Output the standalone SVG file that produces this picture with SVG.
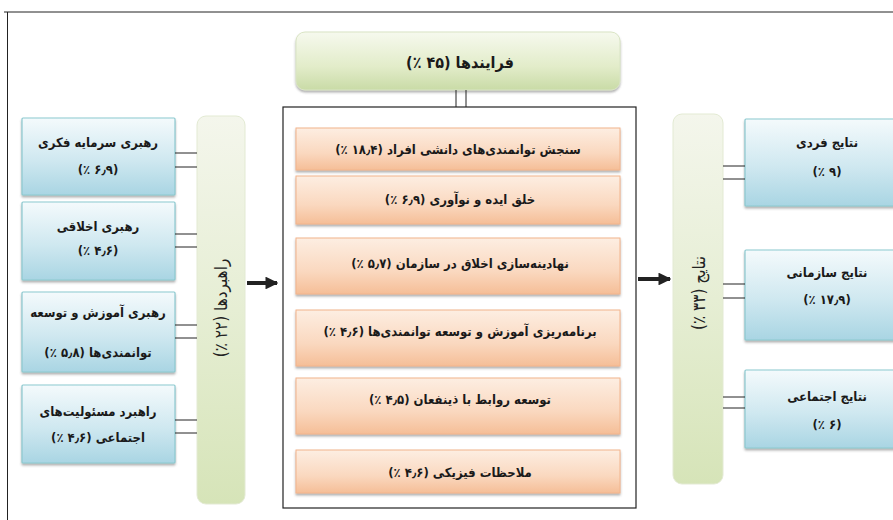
<svg xmlns="http://www.w3.org/2000/svg" width="893" height="520" viewBox="0 0 893 520">
<defs>
<linearGradient id="gBlue" x1="0" y1="0" x2="0" y2="1">
<stop offset="0" stop-color="#f4fafc"/>
<stop offset="0.55" stop-color="#cfe8f0"/>
<stop offset="1" stop-color="#a9d5e3"/>
</linearGradient>
<linearGradient id="gPeach" x1="0" y1="0" x2="0" y2="1">
<stop offset="0" stop-color="#fdeee2"/>
<stop offset="0.6" stop-color="#fad8bf"/>
<stop offset="1" stop-color="#f5be97"/>
</linearGradient>
<linearGradient id="gGreenTop" x1="0" y1="0" x2="0" y2="1">
<stop offset="0" stop-color="#f6f9ee"/>
<stop offset="0.6" stop-color="#e2ecc9"/>
<stop offset="1" stop-color="#c9dba6"/>
</linearGradient>
<linearGradient id="gBar" x1="0" y1="0" x2="0" y2="1">
<stop offset="0" stop-color="#f4f6ec"/>
<stop offset="0.5" stop-color="#e6eed4"/>
<stop offset="1" stop-color="#d6e4b8"/>
</linearGradient>
<filter id="sh" x="-5%" y="-5%" width="110%" height="120%">
<feDropShadow dx="0" dy="2" stdDeviation="1.2" flood-color="#555" flood-opacity="0.45"/>
</filter>
<marker id="arr" viewBox="0 0 10 10" refX="9" refY="5" markerWidth="3.2" markerHeight="3.2" orient="auto" markerUnits="strokeWidth">
<path d="M0,0 L10,5 L0,10 z" fill="#222"/>
</marker>
</defs>
<style>
.t{font-family:"DejaVu Sans Condensed","DejaVu Sans",sans-serif;font-stretch:condensed;font-weight:bold;font-size:13px;fill:#1a1a1a;text-anchor:middle;direction:rtl;unicode-bidi:embed}
.tb{font-size:16px}
.tv{font-size:17px;font-weight:normal;fill:#222}
.blue{fill:url(#gBlue);stroke:#8cc9cf;stroke-width:1.2}
.peach{fill:url(#gPeach);stroke:#f2b48c;stroke-width:1}
.bar{fill:url(#gBar);stroke:#e3ead3;stroke-width:1}
.ln{stroke:#222;stroke-width:1;fill:none}
.ar{stroke:#222;stroke-width:4;fill:none}
</style>
<rect width="893" height="520" fill="#ffffff"/>
<path class="ln" d="M4,12 H893 M7.5,12 V520" stroke-width="1.5"/>

<g id="processes-title">
<rect x="296" y="32" width="324" height="58" rx="9" fill="url(#gGreenTop)" stroke="#d9e4c4" filter="url(#sh)"/>
<text class="t tb" x="460" y="68">فرایندها (۴۵ ٪)</text>
</g>

<g id="processes-frame">
<rect x="283" y="107" width="353" height="401" fill="none" stroke="#222" stroke-width="1.2"/>
</g>

<g id="p1"><rect class="peach" x="296" y="128" width="324" height="42" filter="url(#sh)"/><text class="t" x="458" y="154">سنجش توانمندی‌های دانشی افراد  (۱۸٫۴ ٪)</text></g>
<g id="p2"><rect class="peach" x="296" y="176" width="324" height="48" filter="url(#sh)"/><text class="t" x="460" y="204">خلق ایده و نوآوری  (۶٫۹ ٪)</text></g>
<g id="p3"><rect class="peach" x="296" y="238" width="324" height="56" filter="url(#sh)"/><text class="t" x="460" y="268">نهادینه‌سازی اخلاق در سازمان  (۵٫۷ ٪)</text></g>
<g id="p4"><rect class="peach" x="296" y="310" width="324" height="56" filter="url(#sh)"/><text class="t" x="460" y="336">برنامه‌ریزی آموزش و توسعه توانمندی‌ها  (۴٫۶ ٪)</text></g>
<g id="p5"><rect class="peach" x="296" y="378" width="324" height="56" filter="url(#sh)"/><text class="t" x="460" y="404">توسعه روابط با ذینفعان  (۴٫۵ ٪)</text></g>
<g id="p6"><rect class="peach" x="296" y="450" width="324" height="43" filter="url(#sh)"/><text class="t" x="460" y="477">ملاحظات فیزیکی  (۴٫۶ ٪)</text></g>

<g id="strategies-bar">
<rect class="bar" x="197" y="116" width="48" height="388" rx="9"/>
<text class="t tv" transform="translate(227,308) rotate(-90)">راهبردها   (۲۲ ٪)</text>
</g>

<g id="outcomes-bar">
<rect class="bar" x="673" y="114" width="50" height="370" rx="9"/>
<text class="t tv" transform="translate(705,293) rotate(-90)">نتایج   (۳۳ ٪)</text>
</g>

<g id="s1"><rect class="blue" x="22" y="118" width="153" height="77" rx="1" filter="url(#sh)"/><text class="t" x="98" y="147">رهبری سرمایه فکری</text><text class="t" x="98" y="174">(۶٫۹ ٪)</text></g>
<g id="s2"><rect class="blue" x="22" y="202" width="153" height="78" rx="1" filter="url(#sh)"/><text class="t" x="98" y="231">رهبری اخلاقی</text><text class="t" x="98" y="255">(۴٫۶ ٪)</text></g>
<g id="s3"><rect class="blue" x="22" y="292" width="153" height="80" rx="1" filter="url(#sh)"/><text class="t" x="98" y="317">رهبری آموزش و توسعه</text><text class="t" x="98" y="357">توانمندی‌ها  (۵٫۸ ٪)</text></g>
<g id="s4"><rect class="blue" x="22" y="385" width="153" height="78" rx="1" filter="url(#sh)"/><text class="t" x="98" y="416">راهبرد مسئولیت‌های</text><text class="t" x="98" y="442">اجتماعی (۴٫۶ ٪)</text></g>

<g id="o1"><rect class="blue" x="745" y="119" width="160" height="87" rx="1" filter="url(#sh)"/><text class="t" x="827" y="147">نتایج فردی</text><text class="t" x="827" y="176">(۹ ٪)</text></g>
<g id="o2"><rect class="blue" x="745" y="250" width="160" height="90" rx="1" filter="url(#sh)"/><text class="t" x="827" y="277">نتایج سازمانی</text><text class="t" x="827" y="304">(۱۷٫۹ ٪)</text></g>
<g id="o3"><rect class="blue" x="745" y="370" width="160" height="78" rx="1" filter="url(#sh)"/><text class="t" x="827" y="401">نتایج اجتماعی</text><text class="t" x="827" y="429">(۶ ٪)</text></g>

<g id="connectors">
<path class="ln" d="M456,90 V107 M466,90 V107"/>
<path class="ln" d="M175,153 H197 M175,167 H197"/>
<path class="ln" d="M175,234 H197 M175,247 H197"/>
<path class="ln" d="M175,325 H197 M175,338 H197"/>
<path class="ln" d="M175,420 H197 M175,433 H197"/>
<path class="ln" d="M723,166 H745 M723,179 H745"/>
<path class="ln" d="M723,284 H745 M723,298 H745"/>
<path class="ln" d="M723,397 H745 M723,408 H745"/>
<path class="ar" d="M247,283 H277" marker-end="url(#arr)"/>
<path class="ar" d="M638,279 H670" marker-end="url(#arr)"/>
</g>
</svg>
